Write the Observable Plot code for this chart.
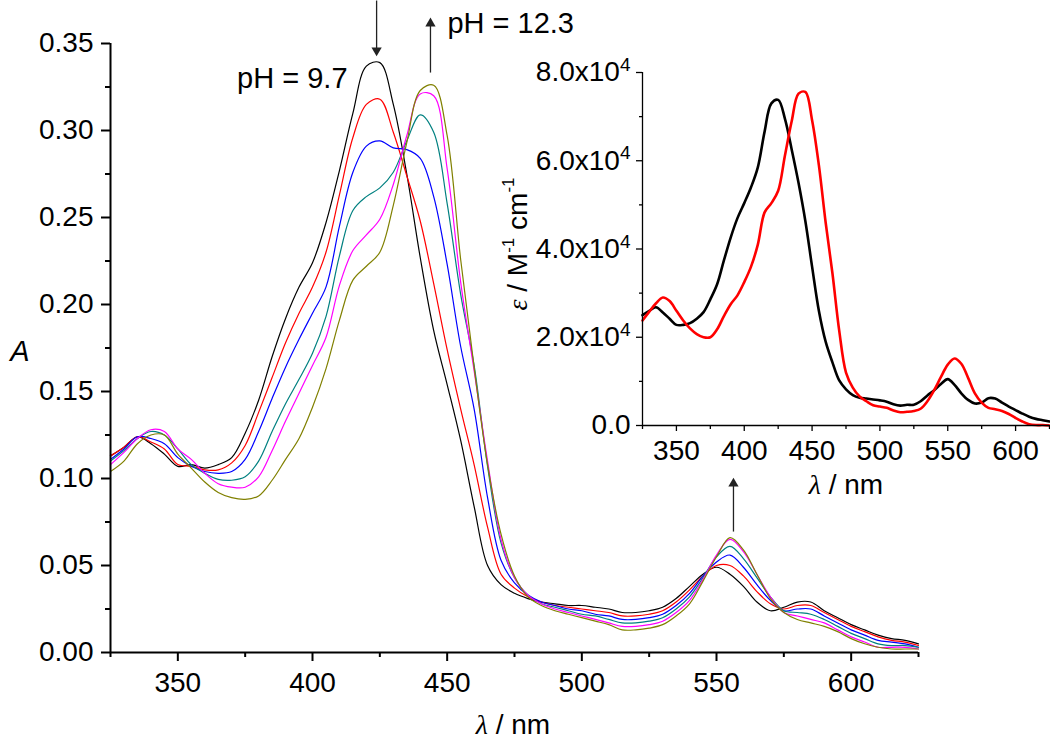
<!DOCTYPE html>
<html>
<head>
<meta charset="utf-8">
<script src="https://cdn.jsdelivr.net/npm/d3@7"></script>
<script src="https://cdn.jsdelivr.net/npm/@observablehq/plot@0.6"></script>
<style>
  html, body { margin: 0; padding: 0; background: #fff; }
  #wrap { position: relative; width: 1050px; height: 741px; overflow: hidden; }
  #wrap svg { position: absolute; left: 0; top: 0; }
</style>
</head>
<body>
<div id="wrap"></div>
<script>
// ---------- data: wavelength grid (nm) ----------
const wl = [325,330,335,340,345,350,355,360,365,370,375,380,385,390,395,400,405,410,415,420,
            425,430,435,440,445,450,455,460,465,470,475,480,485,490,495,500,505,510,515,520,
            525,530,535,540,545,550,555,560,565,570,575,580,585,590,595,600,605,610,615,620,625];

// ---------- main panel: absorbance, pH 9.7 -> 12.3 ----------
const seriesNames = ["pH 9.7", "step 2", "step 3", "step 4", "step 5", "pH 12.3"];
const seriesColors = ["#000000", "#ff0000", "#0000ff", "#008080", "#ff00ff", "#808000"];

const A_black = [0.113,0.118,0.124,0.120,0.114,0.107,0.108,0.106,0.108,0.112,0.126,0.145,0.170,0.192,0.210,0.224,0.247,0.277,0.310,0.337,
                 0.339,0.315,0.275,0.227,0.185,0.154,0.122,0.084,0.050,0.039,0.034,0.031,0.029,0.028,0.027,0.027,0.026,0.025,0.023,0.023,
                 0.024,0.026,0.031,0.038,0.045,0.049,0.045,0.038,0.029,0.024,0.026,0.029,0.029,0.024,0.020,0.016,0.013,0.010,0.008,0.007,0.005];
const A_red   = [0.113,0.118,0.124,0.121,0.117,0.108,0.107,0.105,0.105,0.109,0.119,0.138,0.158,0.178,0.195,0.210,0.230,0.263,0.296,0.315,
                 0.318,0.299,0.274,0.248,0.212,0.174,0.140,0.108,0.072,0.045,0.037,0.032,0.029,0.027,0.026,0.025,0.024,0.023,0.021,0.021,
                 0.022,0.024,0.029,0.036,0.044,0.050,0.050,0.044,0.035,0.028,0.025,0.027,0.027,0.023,0.019,0.015,0.012,0.009,0.007,0.006,0.004];
const A_blue  = [0.111,0.117,0.124,0.123,0.120,0.112,0.107,0.104,0.103,0.104,0.111,0.127,0.146,0.164,0.180,0.195,0.210,0.245,0.276,0.291,
                 0.294,0.290,0.289,0.284,0.262,0.223,0.176,0.140,0.089,0.053,0.040,0.033,0.029,0.027,0.025,0.024,0.022,0.021,0.019,0.019,
                 0.020,0.022,0.027,0.034,0.044,0.052,0.056,0.049,0.039,0.030,0.024,0.025,0.025,0.021,0.017,0.013,0.010,0.007,0.006,0.005,0.003];
const A_teal  = [0.110,0.116,0.123,0.127,0.125,0.117,0.108,0.103,0.0995,0.099,0.101,0.110,0.127,0.143,0.157,0.172,0.193,0.228,0.254,0.262,
                 0.267,0.276,0.294,0.309,0.299,0.258,0.206,0.165,0.107,0.063,0.043,0.033,0.028,0.026,0.024,0.022,0.021,0.019,0.017,0.017,
                 0.018,0.020,0.025,0.032,0.043,0.055,0.061,0.054,0.043,0.032,0.024,0.023,0.022,0.019,0.015,0.011,0.008,0.005,0.004,0.004,0.003];
const A_magenta = [0.108,0.115,0.123,0.128,0.127,0.117,0.111,0.103,0.097,0.095,0.095,0.101,0.116,0.133,0.149,0.165,0.181,0.211,0.231,0.240,
                 0.249,0.269,0.297,0.321,0.320,0.278,0.213,0.162,0.110,0.065,0.043,0.033,0.028,0.025,0.023,0.021,0.019,0.017,0.015,0.015,
                 0.016,0.018,0.023,0.030,0.042,0.056,0.065,0.058,0.045,0.032,0.023,0.021,0.019,0.017,0.013,0.009,0.006,0.003,0.003,0.003,0.002];
const A_olive = [0.104,0.110,0.120,0.125,0.125,0.114,0.106,0.098,0.092,0.089,0.088,0.090,0.099,0.111,0.123,0.141,0.163,0.191,0.214,0.222,
                 0.230,0.257,0.293,0.323,0.326,0.297,0.226,0.164,0.108,0.068,0.044,0.032,0.027,0.024,0.022,0.020,0.018,0.016,0.013,0.013,
                 0.014,0.016,0.021,0.028,0.041,0.055,0.066,0.059,0.045,0.031,0.023,0.019,0.017,0.015,0.012,0.008,0.005,0.003,0.002,0.002,0.002];
const mainSeries = [A_black, A_red, A_blue, A_teal, A_magenta, A_olive];

// ---------- inset: molar absorptivity (M^-1 cm^-1) ----------
const eps_black = [25000,26000,26800,25600,24200,22800,22800,23200,24200,25700,28600,32000,37400,42600,47000,50400,54000,58500,66600,73000,
                   73800,69500,62500,55000,46400,36000,26000,19000,14300,10200,8200,6900,6300,6100,5900,5700,5400,4800,4500,4700,
                   4700,5500,6800,8000,9400,10500,9200,7300,5800,5000,5200,6200,6100,5200,4300,3500,2700,2000,1500,1200,900];
const eps_red   = [23800,25800,27700,29000,28200,26000,23800,22000,20700,20000,20000,21800,24800,27500,29500,32500,36000,41000,48300,50400,
                   53200,61200,69000,75200,75600,69200,59000,46000,34500,21500,12000,8600,6600,5500,4600,4300,4000,3400,3000,3100,
                   3300,3800,5500,8000,11000,13800,15200,14000,10800,7300,5200,4000,3700,3300,2600,1700,900,300,100,100,0];
const insetSeries = [eps_black, eps_red];
const insetColors = ["#000000", "#ff0000"];

// ---------- ticks ----------
const xMajor = [350,400,450,500,550,600];
const xMinor = [325,375,425,475,525,575,625];
const yMajor = [0,0.05,0.10,0.15,0.20,0.25,0.30,0.35];
const yMinor = [0.025,0.075,0.125,0.175,0.225,0.275,0.325];
const iyMajor = [0,20000,40000,60000,80000];
const iyMinor = [10000,30000,50000,70000];

// ---------- annotations ----------
const arrowX    = [423.8, 443.8, 556.3];
const arrowTail = [0.3747, 0.3333, 0.0695];
const arrowTip  = [0.3460, 0.3615, 0.0971];
const arrowDir  = ["down", "up", "up"];
const labelText = ["pH = 9.7", "pH = 12.3"];
const labelX    = [372.0, 450.1];
const labelY    = [0.3297, 0.3613];

const FONT = "'Liberation Sans', Arial, Helvetica, sans-serif";
const SERIF = "'Liberation Serif', 'Times New Roman', serif";

function rowsOf(arr) { return wl.map((w, i) => ({wl: w, v: arr[i]})); }

const arrows = arrowX.map((x, i) => ({x, y1: arrowTail[i], y2: arrowTip[i], dir: arrowDir[i]}));
const labels = labelText.map((t, i) => ({t, x: labelX[i], y: labelY[i]}));

// ---------- main plot ----------
const mainPlot = Plot.plot({
  width: 1050, height: 741,
  marginLeft: 110, marginRight: 132, marginTop: 43, marginBottom: 89,
  style: {fontFamily: FONT, fontSize: "28px", background: "transparent", overflow: "visible", color: "#000"},
  x: {domain: [325, 625], label: null},
  y: {domain: [0, 0.35], label: null},
  marks: [
    ...mainSeries.map((s, i) => Plot.line(rowsOf(s), {x: "wl", y: "v", stroke: seriesColors[i], strokeWidth: 1.2, curve: "catmull-rom"})),
    Plot.axisX({ticks: xMajor, tickSize: 9, tickPadding: 11, strokeWidth: 2, tickFormat: d => String(d), label: null}),
    Plot.axisX({ticks: xMinor, tickSize: 5, strokeWidth: 2, tickFormat: () => "", label: null}),
    Plot.axisY({ticks: yMajor, tickSize: 9, tickPadding: 8, strokeWidth: 2, tickFormat: d3.format(".2f"), label: null}),
    Plot.axisY({ticks: yMinor, tickSize: 5, strokeWidth: 2, tickFormat: () => "", label: null}),
    Plot.ruleX([325], {strokeWidth: 2}),
    Plot.ruleY([0], {strokeWidth: 2}),
    Plot.link(arrows, {x1: "x", x2: "x", y1: "y1", y2: "y2", stroke: "#222", strokeWidth: 1.3}),
    Plot.dot(arrows, {x: "x", y: "y2", symbol: "triangle", r: 3.8, fill: "#222", stroke: "none",
      rotate: d => d.dir === "down" ? 180 : 0}),
    Plot.text(labels, {x: "x", y: "y", text: "t", textAnchor: "start", lineAnchor: "middle", fontSize: 29, fill: "#000"})
  ]
});

// ---------- inset plot ----------
function epsFormat(d) { return d === 0 ? "0.0" : (d / 1e4).toFixed(1) + "x10^4"; }
const insetPlot = Plot.plot({
  width: 1050, height: 741,
  marginLeft: 642, marginRight: 1, marginTop: 72, marginBottom: 316,
  style: {fontFamily: FONT, fontSize: "28px", background: "transparent", overflow: "visible", color: "#000"},
  x: {domain: [325, 625], label: null},
  y: {domain: [0, 80000], label: null},
  marks: [
    ...insetSeries.map((s, i) => Plot.line(rowsOf(s), {x: "wl", y: "v", stroke: insetColors[i], strokeWidth: 2.6, curve: "catmull-rom"})),
    Plot.axisX({ticks: xMajor, tickSize: 6, tickPadding: 9, strokeWidth: 1.3, tickFormat: d => String(d), label: null}),
    Plot.axisX({ticks: xMinor, tickSize: 4, strokeWidth: 1.3, tickFormat: () => "", label: null}),
    Plot.axisY({ticks: iyMajor, tickSize: 6, tickPadding: 6, strokeWidth: 1.3, tickFormat: epsFormat, label: null}),
    Plot.axisY({ticks: iyMinor, tickSize: 3, strokeWidth: 1.3, tickFormat: () => "", label: null}),
    Plot.ruleX([325], {strokeWidth: 1.3}),
    Plot.ruleY([0], {strokeWidth: 1.3})
  ]
});

const wrap = document.getElementById("wrap");
wrap.appendChild(mainPlot);
wrap.appendChild(insetPlot);
insetPlot.style.pointerEvents = "none";

// convert "x10^4" to superscript tspans
d3.select(insetPlot).selectAll("text").each(function () {
  const t = this;
  if (t.childElementCount === 0 && t.textContent.includes("^")) {
    const [base, sup] = t.textContent.split("^");
    t.textContent = "";
    d3.select(t).append("tspan").text(base);
    d3.select(t).append("tspan").attr("dy", "-0.55em").attr("font-size", "19px").text(sup);
  }
});

// axis titles
function addTitle(svg, x, y, parts, rotate, size) {
  const t = d3.select(svg).append("text")
    .attr("text-anchor", "middle")
    .attr("font-family", FONT)
    .attr("font-size", size)
    .attr("fill", "#000")
    .attr("transform", `translate(${x},${y})` + (rotate ? ` rotate(${rotate})` : ""));
  let shift = 0;
  parts.forEach(p => {
    const ts = t.append("tspan").text(p.text);
    if (p.italic) ts.attr("font-style", "italic").attr("font-family", SERIF);
    if (p.sup) { ts.attr("font-size", Math.round(size * 0.62) + "px").attr("dy", "-0.75em"); shift = 1; }
    else if (shift) { ts.attr("dy", (0.75 * Math.round(size * 0.62) / size) + "em"); shift = 0; }
  });
  return t;
}
addTitle(mainPlot, 513, 734, [{text: "λ", italic: true}, {text: " / nm"}], 0, 28);
addTitle(mainPlot, 20, 361, [{text: "A", italic: true}], 0, 29)
  .select("tspan").attr("font-family", FONT);
addTitle(insetPlot, 846, 494, [{text: "λ", italic: true}, {text: " / nm"}], 0, 28);
addTitle(insetPlot, 527, 244, [{text: "ε", italic: true}, {text: " / M"}, {text: "-1", sup: true}, {text: " cm"}, {text: "-1", sup: true}], -90, 28);
</script>
</body>
</html>
